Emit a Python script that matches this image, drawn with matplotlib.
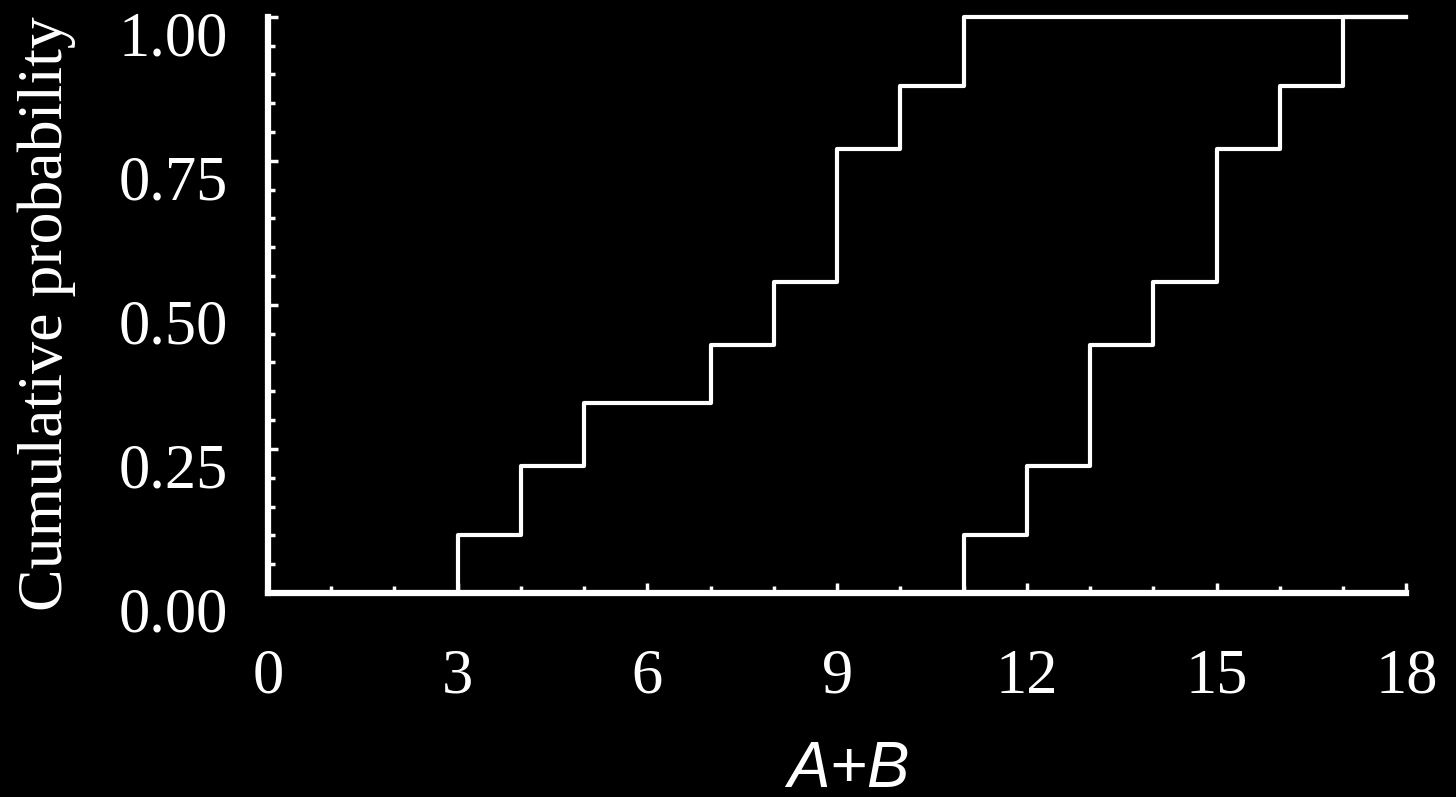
import matplotlib
matplotlib.use("Agg")
import matplotlib.pyplot as plt
import matplotlib.transforms as mtransforms
import numpy as np

# step data (cumulative probability at each A+B value)
x_low = [0, 3, 4, 5, 7, 8, 9, 10, 11, 18]
p_low = [0.0, 0.10, 0.22, 0.33, 0.43, 0.54, 0.77, 0.88, 1.0, 1.0]

x_high = [0, 11, 12, 13, 14, 15, 16, 17, 18]
p_high = [0.0, 0.10, 0.22, 0.43, 0.54, 0.77, 0.88, 1.0, 1.0]

xticks = [0, 3, 6, 9, 12, 15, 18]
yticks = [0.0, 0.25, 0.5, 0.75, 1.0]
ytick_labels = ["0.00", "0.25", "0.50", "0.75", "1.00"]

serif = ["Liberation Serif", "DejaVu Serif"]
sans = ["Liberation Sans", "DejaVu Sans"]

fig = plt.figure(figsize=(14.56, 7.97), dpi=100, facecolor="black")
ax = fig.add_axes([0.184, 0.256, 0.782, 0.723])
ax.set_facecolor("black")

ax.plot(x_low, p_low, drawstyle="steps-post", color="white", lw=3, clip_on=False)
ax.plot(x_high, p_high, drawstyle="steps-post", color="white", lw=3, clip_on=False)

ax.set_xlim(0, 18)
ax.set_ylim(0, 1.0)

for s in ["top", "right"]:
    ax.spines[s].set_visible(False)
for s in ["left", "bottom"]:
    ax.spines[s].set_color("white")
    ax.spines[s].set_linewidth(4.5)

ax.set_xticks(xticks)
ax.set_xticks(np.arange(0, 19, 1), minor=True)
ax.set_yticks(yticks)
ax.set_yticklabels(ytick_labels)
ax.set_yticks(np.arange(0, 1.01, 0.05), minor=True)

ax.tick_params(which="both", direction="in", colors="white", width=2.5)
ax.tick_params(which="major", length=7)
ax.tick_params(which="minor", length=5)
ax.tick_params(axis="x", which="major", pad=40, labelsize=45)
ax.tick_params(axis="y", which="major", pad=29, labelsize=45)

for lab in ax.get_xticklabels() + ax.get_yticklabels():
    lab.set_fontfamily(serif)
    lab.set_color("white")

# y labels sit a little below their ticks in the original
off = mtransforms.ScaledTranslation(0, -0.17, fig.dpi_scale_trans)
for lab in ax.get_yticklabels():
    lab.set_transform(lab.get_transform() + off)

fig.text(0.032, 0.606, "Cumulative probability", rotation=90, ha="center", va="center",
         color="white", fontsize=46, family=serif)
fig.text(0.583, 0.034, "A+B", ha="center", va="center", color="white",
         fontsize=46, family=sans, style="italic")

fig.savefig("out.png", dpi=100, facecolor="black")
